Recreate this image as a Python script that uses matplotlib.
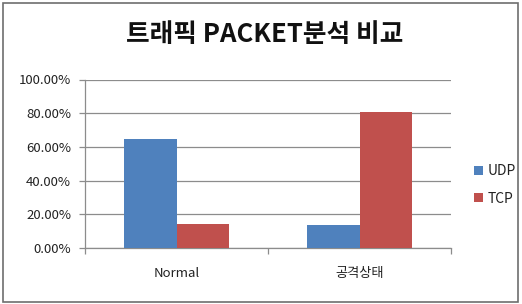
import matplotlib
matplotlib.use("Agg")
import matplotlib.pyplot as plt
from matplotlib.patches import Rectangle, Patch
from matplotlib.ticker import FuncFormatter, MultipleLocator
import numpy as np

plt.rcParams['font.family'] = ['Noto Sans CJK KR', 'DejaVu Sans']

title = "트래픽 PACKET분석 비교"
categories = ["Normal", "공격상태"]
series_names = ["UDP", "TCP"]
udp = [64.5, 13.5]
tcp = [14.5, 80.5]
colors = ["#4F81BD", "#C0504D"]

W, H = 522, 304
fig = plt.figure(figsize=(W / 100, H / 100), dpi=100)
ax = fig.add_axes([85 / W, 56 / H, 366 / W, 168.5 / H])

x = np.arange(len(categories))
bw = 1 / 3.5
ax.bar(x - bw / 2, udp, width=bw, color=colors[0], label=series_names[0], zorder=3)
ax.bar(x + bw / 2, tcp, width=bw, color=colors[1], label=series_names[1], zorder=3)

ax.set_xlim(-0.5, len(categories) - 0.5)
ax.set_ylim(0, 100)
ax.yaxis.set_major_locator(MultipleLocator(20))
ax.yaxis.set_major_formatter(FuncFormatter(lambda v, p: f"{v:.2f}%"))
ax.grid(axis='y', color='#8c8c8c', linewidth=0.9, zorder=0)

ax.set_xticks(x)
ax.set_xticklabels(categories)
ax.set_xticks(np.arange(-0.5, len(categories)), minor=True)
ax.tick_params(axis='x', which='major', length=0, pad=14, labelsize=9.5, labelcolor='#222222')
ax.tick_params(axis='x', which='minor', length=4, color='#8c8c8c', width=0.9)
ax.tick_params(axis='y', length=4, color='#8c8c8c', width=0.9, labelsize=9.5, labelcolor='#222222', pad=6)

for s in ['top', 'right']:
    ax.spines[s].set_visible(False)
for s in ['left', 'bottom']:
    ax.spines[s].set_color('#8c8c8c')
    ax.spines[s].set_linewidth(0.9)

handles = [Patch(facecolor=c, label=n) for c, n in zip(colors, series_names)]
fig.legend(handles=handles, loc='center left', bbox_to_anchor=(474 / W, 1 - 185 / H),
           frameon=False, borderpad=0, borderaxespad=0,
           handlelength=0.65, handleheight=0.65, handletextpad=0.3,
           labelspacing=0.95, fontsize=10, labelcolor='#222222')

fig.text(265 / W, 1 - 35 / H, title, ha='center', va='center', fontsize=18.5,
         fontweight='bold', color='#111111')

fig.add_artist(Rectangle((3 / W, 2.5 / H), 515 / W, 299 / H, transform=fig.transFigure,
                         fill=False, edgecolor='#6e6e6e', linewidth=1.2))

fig.savefig("out.png", dpi=100)
